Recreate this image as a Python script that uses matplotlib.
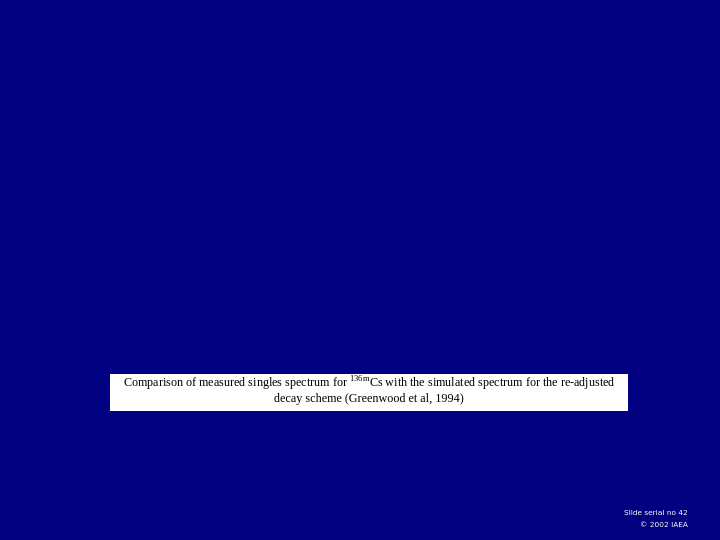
import matplotlib.pyplot as plt
from matplotlib.patches import Rectangle

# Slide texts
caption_lines = [r"Comparison of measured singles spectrum for $^{\mathrm{136m}}$Cs with the simulated spectrum for the re-adjusted",
                 "decay scheme (Greenwood et al, 1994)"]
footer_lines = ["Slide serial no 42", "\u00a9 2002 IAEA"]

bg_color = '#000080'

plt.rcParams['mathtext.fontset'] = 'custom'
plt.rcParams['mathtext.rm'] = 'Liberation Serif'

fig = plt.figure(figsize=(7.2, 5.4), dpi=100, facecolor=bg_color)

# white caption box
box = Rectangle((110 / 720, 1 - 411 / 540), (628 - 110) / 720, (411 - 374) / 540,
                transform=fig.transFigure, facecolor='white', edgecolor='none')
fig.patches.append(box)

fig.text(369 / 720, 1 - 384 / 540, caption_lines[0], ha='center', va='center',
         family='Liberation Serif', fontsize=8.7, color='black')
fig.text(369 / 720, 1 - 399 / 540, caption_lines[1], ha='center', va='center',
         family='Liberation Serif', fontsize=8.7, color='black')

fig.text(688 / 720, 1 - 513 / 540, footer_lines[0], ha='right', va='center',
         family='DejaVu Sans', fontsize=5.3, color='white')
fig.text(688 / 720, 1 - 525 / 540, footer_lines[1], ha='right', va='center',
         family='DejaVu Sans', fontsize=5.3, color='white')

fig.savefig('out.png', dpi=100, facecolor=bg_color)
